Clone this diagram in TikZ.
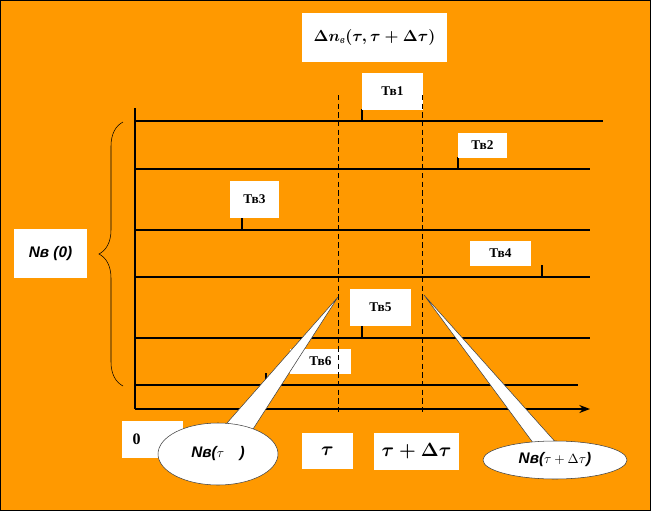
\documentclass[tikz,border=0pt]{standalone}
\usepackage{amsmath}
\usepackage{fontspec}
\setmainfont{Liberation Serif}
\newfontfamily\cyrsans{Liberation Sans}
\usetikzlibrary{arrows.meta,shapes.geometric,decorations.pathreplacing}
\definecolor{bgorange}{HTML}{FF9900}
\definecolor{calloutgray}{HTML}{404040}

\begin{document}
\begin{tikzpicture}[x=0.75pt, y=-0.75pt,
  tbox/.style={fill=white, inner sep=0pt},
  tlabel/.style={font=\fontsize{10}{12}\selectfont\bfseries},
  mathlabel/.style={font=\fontsize{15}{17}\selectfont\boldmath},
  nsfont/.style={font=\cyrsans\fontsize{11.5}{14}\selectfont\bfseries\itshape},
  trace/.style={line width=1.1pt},
  tickmark/.style={line width=0.8pt},
  marker/.style={line width=0.7pt, dash pattern=on 4pt off 2.5pt},
  bubble/.style={ellipse, draw=calloutgray, fill=white, inner sep=0pt, thin},
  tail/.style={draw=calloutgray, fill=white, thin, line join=miter}
]
  %% background and frame
  \fill[bgorange] (0,0) rectangle (651,511);
  \draw[thin] (0.5,0.5) rectangle (650.5,510.5);
  \useasboundingbox (0,0) rectangle (651,511);

  %% title
  \node[tbox, minimum width=108.75pt, minimum height=36.75pt,
        font=\fontsize{12}{15}\selectfont\boldmath] (title) at (374.5,37.5)
    {$\Delta n_{\textit{в}}(\tau,\tau+\Delta\tau)$};

  %% time lines of the six elements
  \foreach \ly/\lx in {121/603, 169/590, 230/590, 277/590, 338/590, 385/578}
    \draw[trace] (135,\ly) -- (\lx,\ly);

  %% failure moments
  \foreach \tx/\ty in {362/121, 458/169, 242/230, 542/277, 362/338, 266/385}
    \draw[tickmark] (\tx,\ty) -- ++(0,-12);

  \node[tbox, tlabel, minimum width=45.75pt, minimum height=27.75pt] (t1) at (392.5,91.5) {Тв1};
  \node[tbox, tlabel, minimum width=36.75pt, minimum height=18.75pt] (t2) at (482.5,145.5) {Тв2};
  \node[tbox, tlabel, minimum width=36.75pt, minimum height=27.75pt] (t3) at (254.5,199.5) {Тв3};
  \node[tbox, tlabel, minimum width=45.75pt, minimum height=18.75pt] (t4) at (500.5,253.5) {Тв4};
  \node[tbox, tlabel, minimum width=45.75pt, minimum height=27.75pt] (t5) at (380.5,307.5) {Тв5};
  \node[tbox, tlabel, minimum width=45.75pt, minimum height=18.75pt] (t6) at (320.5,361.5) {Тв6};

  %% axes
  \coordinate (origin) at (135,409);
  \coordinate (ytop) at (135,108);
  \coordinate (xend) at (590,409);
  \draw[trace] (ytop) -- (origin);
  \draw[trace, -{Stealth[length=8pt, width=6pt]}] (origin) -- (xend);

  %% interval markers
  \draw[marker] (338,95) -- (338,412);
  \draw[marker] (422,95) -- (422,412);

  %% brace for Ns(0)
  \draw[decorate, decoration={brace, amplitude=18pt}, thin]
    (123,386) -- (123,122);
  \node[tbox, nsfont, minimum width=54.75pt, minimum height=36.75pt] (ns0)
    at (50.5,253.5) {Nв (0)};

  %% axis labels
  \node[tbox, minimum width=45.75pt, minimum height=27.75pt, text width=30pt,
        align=left, inner xsep=8pt, font=\bfseries\fontsize{12}{14}\selectfont]
    (zero) at (152.5,439.5) {0};
  \node[tbox, mathlabel, minimum width=38.25pt, minimum height=27pt] (tau)
    at (327.5,451) {$\tau$};
  \node[tbox, mathlabel, minimum width=63.75pt, minimum height=27.75pt] (taudt)
    at (416.5,451.5) {$\tau+\Delta\tau$};

  %% callouts
  \coordinate (b1) at (218,454);
  \coordinate (tip1) at (338,297);
  \draw[tail] (212,440) -- (tip1) -- (246,440) -- cycle;
  \node[bubble, nsfont, minimum width=90pt, minimum height=46.5pt]
    (nstau) at (b1) {Nв({\fontsize{10}{11}\selectfont$\tau$}\quad)};

  \coordinate (b2) at (555,460);
  \coordinate (tip2) at (424,295);
  \draw[tail] (542,455) -- (tip2) -- (567,455) -- cycle;
  \node[bubble, nsfont, minimum width=108pt, minimum height=28.5pt]
    (nstaudt) at (b2) {Nв({\fontsize{10}{11}\selectfont$\tau+\Delta\tau$})};
\end{tikzpicture}
\end{document}
